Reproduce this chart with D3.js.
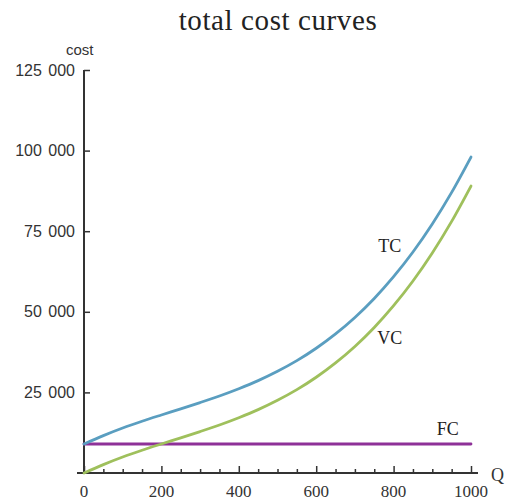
<!DOCTYPE html>
<html>
<head>
<meta charset="utf-8">
<script src="https://cdn.jsdelivr.net/npm/d3@7"></script>
<style>
  html, body { margin: 0; padding: 0; background: #fff; }
  svg { display: block; }
</style>
</head>
<body>
<div id="chart"></div>
<script>
// ---- data ----
const quantities = [0, 50, 100, 150, 200, 250, 300, 350, 400, 450, 500, 550, 600, 650, 700, 750, 800, 850, 900, 950, 1000];
const variableCost = [0, 2600, 4950, 7050, 9000, 10900, 12850, 14900, 17150, 19650, 22550, 25850, 29700, 34150, 39250, 45150, 51900, 59550, 68250, 78050, 89000];
const fixedCost = 9000;
const totalCost = variableCost.map(v => v + fixedCost);
const fixedCostSeries = quantities.map(() => fixedCost);
const seriesNames = ["TC", "VC", "FC"];
const xMajorTicks = [0, 200, 400, 600, 800, 1000];
const xMinorTicks = d3.range(0, 1001, 50);
const yTicks = [25000, 50000, 75000, 100000, 125000];
const yTickLabels = ["25 000", "50 000", "75 000", "100 000", "125 000"];

// ---- layout ----
const W = 507, H = 504;
const svg = d3.select("#chart").append("svg").attr("width", W).attr("height", H);

const x = d3.scaleLinear().domain([0, 1000]).range([84, 471]);
const y = d3.scaleLinear().domain([0, 125000]).range([473, 70]);

const axisColor = "#333";
const serif = "'Liberation Serif', 'Times New Roman', serif";
const sans = "'Liberation Sans', Arial, sans-serif";

// title
svg.append("text")
  .attr("x", 278).attr("y", 30)
  .attr("text-anchor", "middle")
  .attr("font-family", serif).attr("font-size", 29)
  .attr("letter-spacing", 0.6)
  .attr("fill", "#222")
  .text("total cost curves");

// y axis
const yAxis = d3.axisRight(y).tickValues(yTicks).tickSize(6).tickFormat("");
const gy = svg.append("g").attr("transform", `translate(${x(0)},0)`).call(yAxis);
gy.select(".domain").remove();
gy.selectAll(".tick line").attr("stroke", axisColor).attr("stroke-width", 1.5);
svg.append("line")
  .attr("x1", x(0)).attr("x2", x(0))
  .attr("y1", y(125000)).attr("y2", y(0) + 1)
  .attr("stroke", axisColor).attr("stroke-width", 2);
svg.selectAll(".ylab").data(yTicks).enter().append("text")
  .attr("class", "ylab")
  .attr("x", 75).attr("y", d => y(d))
  .attr("dy", "0.35em")
  .attr("text-anchor", "end")
  .attr("font-family", sans).attr("font-size", 16)
  .attr("word-spacing", 2)
  .attr("fill", "#333")
  .text((d, i) => yTickLabels[i]);

// x axis
const xAxisMinor = d3.axisTop(x).tickValues(xMinorTicks.filter(d => !xMajorTicks.includes(d))).tickSize(4).tickFormat("");
const xAxisMajor = d3.axisTop(x).tickValues(xMajorTicks).tickSize(7).tickFormat("");
const gx1 = svg.append("g").attr("transform", `translate(0,${y(0)})`).call(xAxisMinor);
const gx2 = svg.append("g").attr("transform", `translate(0,${y(0)})`).call(xAxisMajor);
[gx1, gx2].forEach(g => {
  g.select(".domain").remove();
  g.selectAll(".tick line").attr("stroke", axisColor).attr("stroke-width", 1.5);
});
svg.append("line")
  .attr("x1", 77).attr("x2", 478)
  .attr("y1", y(0)).attr("y2", y(0))
  .attr("stroke", axisColor).attr("stroke-width", 2);
svg.selectAll(".xlab").data(xMajorTicks).enter().append("text")
  .attr("class", "xlab")
  .attr("x", d => x(d)).attr("y", 497)
  .attr("text-anchor", "middle")
  .attr("font-family", serif).attr("font-size", 17)
  .attr("fill", "#333")
  .text(d => d);

// axis labels
svg.append("text").attr("x", 66).attr("y", 55)
  .attr("font-family", sans).attr("font-size", 15).attr("fill", "#333").text("cost");
svg.append("text").attr("x", 491).attr("y", 481)
  .attr("font-family", serif).attr("font-size", 18).attr("fill", "#333").text("Q");

// curves
const line = d3.line().x((d, i) => x(quantities[i])).y(d => y(d)).curve(d3.curveMonotoneX);
const colors = { TC: "#5a9ec0", VC: "#9fc05c", FC: "#8e3198" };
const data = { TC: totalCost, VC: variableCost, FC: fixedCostSeries };
["FC", "VC", "TC"].forEach(name => {
  svg.append("path")
    .datum(data[name])
    .attr("d", line)
    .attr("fill", "none")
    .attr("stroke", colors[name])
    .attr("stroke-width", 2.8)
    .attr("stroke-linecap", "round");
});

// curve labels
const labelPos = { TC: [790, 68500], VC: [790, 40000], FC: [940, 11800] };
seriesNames.forEach(name => {
  svg.append("text")
    .attr("x", x(labelPos[name][0])).attr("y", y(labelPos[name][1]))
    .attr("text-anchor", "middle")
    .attr("font-family", serif).attr("font-size", 18)
    .attr("fill", "#222")
    .text(name);
});
</script>
</body>
</html>
